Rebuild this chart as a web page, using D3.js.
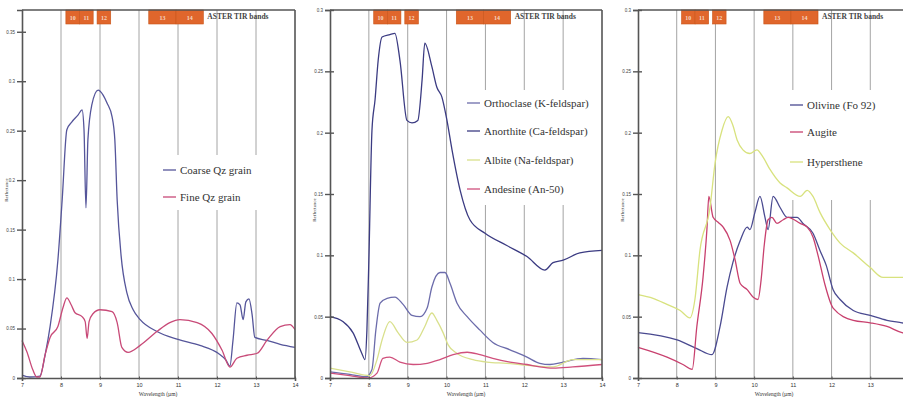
<!DOCTYPE html>
<html>
<head>
<meta charset="utf-8">
<script src="https://cdn.jsdelivr.net/npm/d3@7"></script>
<style>
  body { margin: 0; background: #fff; }
  svg { display: block; font-family: "Liberation Serif", "DejaVu Serif", serif; }
</style>
</head>
<body>
<div id="chart"></div>
<script>
// Wavelength ticks (µm) shared by all panels
const xTicks = [7, 8, 9, 10, 11, 12, 13, 14];
const gridTicks = [8, 9, 10, 11, 12, 13];
const yTicksQz = [0, 0.05, 0.1, 0.15, 0.2, 0.25, 0.3, 0.35];
const yTicksMin = [0, 0.05, 0.1, 0.15, 0.2, 0.25, 0.3];

// ASTER TIR bands (µm)
const bandNames = ["10", "11", "12", "13", "14"];
const bandStart = [8.125, 8.475, 8.925, 10.25, 10.95];
const bandEnd = [8.475, 8.825, 9.275, 10.95, 11.65];

// Panel 1 - quartz
const qzNames = ["Coarse Qz grain", "Fine Qz grain"];
const coarseQz = [[7.0,0.003],[7.2,0.001],[7.46,0.002],[7.6,0.025],[7.72,0.052],[7.92,0.119],[8.03,0.18],[8.15,0.251],[8.28,0.259],[8.44,0.266],[8.54,0.271],[8.59,0.251],[8.64,0.172],[8.69,0.241],[8.79,0.276],[8.95,0.291],[9.08,0.286],[9.18,0.278],[9.31,0.264],[9.38,0.241],[9.44,0.18],[9.54,0.124],[9.69,0.086],[9.85,0.069],[10.03,0.059],[10.46,0.047],[11.0,0.039],[11.56,0.033],[12.03,0.025],[12.23,0.018],[12.33,0.012],[12.41,0.038],[12.51,0.076],[12.59,0.074],[12.67,0.059],[12.74,0.077],[12.82,0.08],[12.9,0.064],[12.97,0.041],[13.28,0.038],[13.62,0.034],[14.0,0.031]];
const fineQz = [[7.0,0.038],[7.13,0.026],[7.28,0.008],[7.38,0.001],[7.46,0.001],[7.59,0.023],[7.72,0.041],[7.92,0.052],[8.05,0.071],[8.15,0.081],[8.26,0.074],[8.36,0.066],[8.54,0.062],[8.62,0.057],[8.67,0.04],[8.72,0.057],[8.82,0.065],[9.0,0.069],[9.31,0.067],[9.44,0.056],[9.56,0.031],[9.72,0.026],[10.03,0.033],[10.46,0.047],[10.79,0.056],[11.05,0.059],[11.49,0.056],[11.87,0.045],[12.13,0.028],[12.33,0.011],[12.51,0.02],[12.77,0.023],[13.03,0.025],[13.28,0.038],[13.62,0.052],[13.87,0.054],[14.0,0.049]];

// Panel 2 - feldspars
const feldsparNames = ["Orthoclase (K-feldspar)", "Anorthite (Ca-feldspar)", "Albite (Na-feldspar)", "Andesine (An-50)"];
const orthoclase = [[7.0,0.005],[7.51,0.003],[7.93,0.001],[8.08,0.007],[8.18,0.039],[8.29,0.061],[8.47,0.065],[8.67,0.066],[8.88,0.06],[9.11,0.051],[9.32,0.05],[9.5,0.057],[9.62,0.074],[9.83,0.086],[9.96,0.086],[10.09,0.077],[10.27,0.061],[10.53,0.05],[10.86,0.039],[11.19,0.029],[11.63,0.023],[12.07,0.017],[12.4,0.012],[12.66,0.011],[13.0,0.013],[13.51,0.016],[14.0,0.015]];
const anorthite = [[7.0,0.05],[7.33,0.046],[7.59,0.037],[7.82,0.02],[7.9,0.015],[7.95,0.039],[8.0,0.096],[8.08,0.202],[8.16,0.227],[8.24,0.259],[8.34,0.278],[8.54,0.28],[8.67,0.281],[8.8,0.259],[8.98,0.21],[9.11,0.208],[9.26,0.21],[9.37,0.243],[9.44,0.273],[9.62,0.254],[9.75,0.237],[9.88,0.229],[10.01,0.21],[10.14,0.186],[10.35,0.153],[10.6,0.129],[10.99,0.118],[11.55,0.108],[12.07,0.099],[12.53,0.088],[12.74,0.094],[13.0,0.096],[13.43,0.102],[14.0,0.104]];
const albite = [[7.0,0.008],[7.51,0.005],[8.03,0.002],[8.21,0.015],[8.34,0.031],[8.54,0.046],[8.75,0.037],[8.98,0.029],[9.24,0.031],[9.44,0.042],[9.62,0.053],[9.75,0.047],[9.91,0.037],[10.04,0.027],[10.27,0.02],[10.68,0.015],[11.04,0.013],[11.55,0.012],[12.22,0.01],[12.74,0.009],[13.25,0.015],[14.0,0.015]];
const andesine = [[7.0,0.004],[7.51,0.002],[7.98,0.0],[8.21,0.004],[8.36,0.016],[8.54,0.017],[8.8,0.013],[9.14,0.011],[9.5,0.012],[9.83,0.015],[10.17,0.019],[10.53,0.021],[10.86,0.019],[11.19,0.016],[11.63,0.013],[12.07,0.011],[12.4,0.009],[12.74,0.008],[13.25,0.009],[14.0,0.011]];

// Panel 3 - mafic minerals
const maficNames = ["Olivine (Fo 92)", "Augite", "Hypersthene"];
const olivine = [[7.0,0.037],[8.01,0.031],[8.52,0.024],[8.91,0.019],[9.12,0.042],[9.3,0.074],[9.45,0.094],[9.64,0.112],[9.82,0.123],[9.89,0.121],[10.02,0.135],[10.15,0.148],[10.28,0.131],[10.36,0.121],[10.49,0.148],[10.67,0.139],[10.85,0.131],[11.11,0.131],[11.26,0.126],[11.52,0.118],[11.7,0.104],[11.86,0.092],[12.04,0.072],[12.22,0.064],[12.56,0.055],[13.0,0.051],[13.43,0.047],[13.82,0.045],[14.0,0.044]];
const augite = [[7.0,0.025],[7.75,0.017],[8.16,0.011],[8.4,0.007],[8.52,0.042],[8.68,0.082],[8.78,0.121],[8.83,0.148],[8.94,0.131],[9.07,0.127],[9.2,0.123],[9.38,0.112],[9.51,0.096],[9.64,0.077],[9.82,0.072],[9.97,0.066],[10.1,0.064],[10.18,0.08],[10.26,0.108],[10.36,0.129],[10.46,0.131],[10.59,0.126],[10.75,0.129],[10.88,0.131],[11.19,0.126],[11.37,0.123],[11.52,0.115],[11.65,0.1],[11.83,0.076],[12.04,0.057],[12.56,0.047],[13.0,0.045],[13.43,0.042],[13.82,0.037],[14.0,0.036]];
const hypersthene = [[7.0,0.068],[7.39,0.065],[7.75,0.06],[8.09,0.055],[8.34,0.049],[8.47,0.064],[8.6,0.104],[8.86,0.139],[8.99,0.175],[9.17,0.202],[9.33,0.213],[9.45,0.206],[9.56,0.194],[9.71,0.186],[9.89,0.183],[10.07,0.186],[10.23,0.18],[10.41,0.17],[10.67,0.159],[10.85,0.155],[11.19,0.148],[11.37,0.153],[11.52,0.148],[11.7,0.135],[11.96,0.121],[12.22,0.11],[12.56,0.102],[13.0,0.09],[13.33,0.082],[13.82,0.082],[14.0,0.082]];

const width = 903;
const height = 397;
const marginTop = 10;
const marginBottom = 19;

const svg = d3.select("#chart").append("svg")
    .attr("width", width)
    .attr("height", height);

const bandColor = "#e0662c";
const axisColor = "#555";
const gridColor = "#9a9a9a";

function drawPanel(p) {
  const x = d3.scaleLinear([7, 14], [p.left, p.right]);
  const y = d3.scaleLinear([0, p.yMax], [height - marginBottom, marginTop]);
  const g = svg.append("g");

  // vertical grid lines
  g.selectAll(".grid")
    .data(gridTicks)
    .join("line")
    .attr("x1", d => x(d)).attr("x2", d => x(d))
    .attr("y1", marginTop).attr("y2", height - marginBottom)
    .attr("stroke", gridColor)
    .attr("stroke-width", 0.9);

  // legend background hides grid lines behind it
  g.append("rect")
    .attr("x", p.legend.x0).attr("y", p.legend.y0)
    .attr("width", p.legend.x1 - p.legend.x0)
    .attr("height", p.legend.y1 - p.legend.y0)
    .attr("fill", "#fff");

  // ASTER bands
  const bands = g.selectAll(".band")
    .data(bandNames)
    .join("g");
  bands.append("rect")
    .attr("x", (d, i) => x(bandStart[i]))
    .attr("y", marginTop)
    .attr("width", (d, i) => x(bandEnd[i]) - x(bandStart[i]))
    .attr("height", 14)
    .attr("fill", bandColor)
    .attr("stroke", "#c85418")
    .attr("stroke-width", 0.6);
  bands.append("text")
    .attr("x", (d, i) => (x(bandStart[i]) + x(bandEnd[i])) / 2)
    .attr("y", marginTop + 9.5)
    .attr("text-anchor", "middle")
    .attr("fill", "#f6d6c2")
    .style("font-size", "6px")
    .style("font-weight", "bold")
    .text(d => d);
  g.append("text")
    .attr("x", x(bandEnd[4]) + 4)
    .attr("y", marginTop + 9)
    .attr("fill", "#444")
    .style("font-size", "7.5px")
    .style("font-weight", "bold")
    .text("ASTER TIR bands");

  // spectra
  const line = d3.line()
    .x(d => x(d[0]))
    .y(d => y(d[1]))
    .curve(d3.curveMonotoneX);

  g.append("g")
    .selectAll("path")
    .data(p.series)
    .join("path")
    .attr("d", d => line(d))
    .attr("fill", "none")
    .attr("stroke", (d, i) => p.colors[i])
    .attr("stroke-width", 1.3);

  // frame: top and right
  g.append("line")
    .attr("x1", p.left).attr("x2", p.right)
    .attr("y1", marginTop).attr("y2", marginTop)
    .attr("stroke", axisColor).attr("stroke-width", 1.6);
  g.append("line")
    .attr("x1", p.right).attr("x2", p.right)
    .attr("y1", marginTop).attr("y2", height - marginBottom)
    .attr("stroke", axisColor).attr("stroke-width", 1.6);

  // x axis
  const shownTicks = xTicks.filter(t => x(t) < width - 4);
  const xAxis = g.append("g")
    .attr("transform", `translate(0,${height - marginBottom})`)
    .call(d3.axisBottom(x).tickValues(shownTicks).tickFormat(d3.format("d")).tickSize(3).tickPadding(2));
  xAxis.select(".domain").attr("stroke", axisColor).attr("stroke-width", 1.6);
  xAxis.selectAll(".tick line").attr("stroke", axisColor).attr("transform", "translate(0,-1.5)");
  xAxis.selectAll("text").style("font-size", "5.5px").attr("fill", "#333").style("font-family", "inherit");

  // y axis
  const yAxis = g.append("g")
    .attr("transform", `translate(${p.left},0)`)
    .call(d3.axisLeft(y).tickValues(p.yTicks).tickFormat(d3.format(".2~f")).tickSize(5).tickPadding(2));
  yAxis.select(".domain").attr("stroke", axisColor).attr("stroke-width", 1.6);
  yAxis.selectAll(".tick line").attr("stroke", axisColor).attr("stroke-width", 1.4).attr("x2", 4).attr("x1", -5);
  yAxis.selectAll("text").style("font-size", "4.5px").attr("fill", "#444").style("font-family", "inherit");

  // axis titles
  g.append("text")
    .attr("x", p.left + 136)
    .attr("y", height - 1.5)
    .attr("text-anchor", "middle")
    .attr("fill", "#333")
    .style("font-size", "5.5px")
    .text("Wavelength (µm)");
  g.append("text")
    .attr("transform", `translate(${p.left - 14},${p.titleY}) rotate(-90)`)
    .attr("text-anchor", "middle")
    .attr("fill", "#333")
    .style("font-size", "5px")
    .text("Reflectance");

  // legend
  const items = g.append("g")
    .selectAll("g")
    .data(p.names)
    .join("g")
    .attr("transform", (d, i) => `translate(${p.legend.lx},${p.legend.ly[i]})`);
  items.append("line")
    .attr("x1", 0).attr("x2", 13)
    .attr("stroke", (d, i) => p.colors[i])
    .attr("stroke-width", 1.3);
  items.append("text")
    .attr("x", 17)
    .attr("dy", "0.35em")
    .attr("fill", "#333")
    .style("font-size", "11px")
    .text(d => d);
}

drawPanel({
  left: 22, right: 295, yMax: 0.372, yTicks: yTicksQz, titleY: 190,
  series: [coarseQz, fineQz], names: qzNames,
  colors: ["#55559a", "#c84a78"],
  legend: { x0: 150, x1: 268, y0: 155, y1: 210, lx: 163, ly: [170, 197] }
});

drawPanel({
  left: 330, right: 602, yMax: 0.3, yTicks: yTicksMin, titleY: 210,
  series: [orthoclase, anorthite, albite, andesine], names: feldsparNames,
  colors: ["#6c6cab", "#3b3b82", "#d9e08c", "#d0507c"],
  legend: { x0: 455, x1: 601, y0: 90, y1: 205, lx: 467, ly: [103, 131, 160, 189] }
});

drawPanel({
  left: 638, right: 909, yMax: 0.3, yTicks: yTicksMin, titleY: 210,
  series: [olivine, augite, hypersthene], names: maficNames,
  colors: ["#4a4a90", "#c8406e", "#d8e27e"],
  legend: { x0: 780, x1: 903, y0: 90, y1: 200, lx: 790, ly: [105, 132, 162] }
});
</script>
</body>
</html>
